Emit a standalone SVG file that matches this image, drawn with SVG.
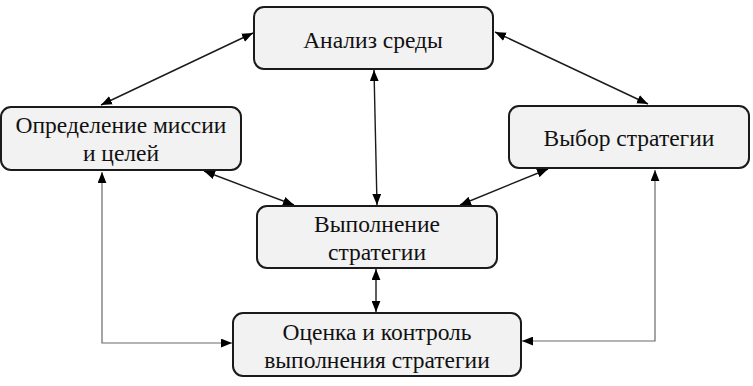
<svg xmlns="http://www.w3.org/2000/svg" width="753" height="386" viewBox="0 0 753 386">
<defs>
<style>
.box{fill:#f2f2f2;stroke:#1a1a1a;stroke-width:2}
.t{font-family:'Liberation Serif','Times New Roman',serif;font-size:23.5px;fill:#111;text-anchor:middle}
.c{fill:none;stroke:#1a1a1a;stroke-width:1.4}
.g{fill:none;stroke:#6a6a6a;stroke-width:1.2}
</style>
<marker id="ah" viewBox="0 0 10 8" refX="10" refY="4" markerWidth="11" markerHeight="9" markerUnits="userSpaceOnUse" orient="auto-start-reverse">
<path d="M0,0 L10,4 L0,8 Z" fill="#000"/>
</marker>
</defs>
<rect width="753" height="386" fill="#fff"/>
<g id="connectors">
<path class="c" d="M253,33 L101,105" marker-start="url(#ah)" marker-end="url(#ah)"/>
<path class="c" d="M495,32 L648,104" marker-start="url(#ah)" marker-end="url(#ah)"/>
<path class="c" d="M374,70 L377,205" marker-start="url(#ah)" marker-end="url(#ah)"/>
<path class="c" d="M204,171 L294,205" marker-start="url(#ah)" marker-end="url(#ah)"/>
<path class="c" d="M548,169 L460,205" marker-start="url(#ah)" marker-end="url(#ah)"/>
<path class="c" d="M376,269 L376,312" marker-start="url(#ah)" marker-end="url(#ah)"/>
<path class="g" d="M102,172 L102,343 L232,343" marker-start="url(#ah)" marker-end="url(#ah)"/>
<path class="g" d="M655,170 L655,341 L522,341" marker-start="url(#ah)" marker-end="url(#ah)"/>
</g>
<g id="node-analiz">
<rect class="box" x="254" y="7" width="239" height="62" rx="10"/>
<text class="t" x="373" y="48">Анализ среды</text>
</g>
<g id="node-opredelenie">
<rect class="box" x="1" y="107" width="240" height="63" rx="10"/>
<text class="t" x="121" y="133">Определение миссии</text>
<text class="t" x="121" y="161">и целей</text>
</g>
<g id="node-vybor">
<rect class="box" x="509" y="106" width="240" height="62" rx="10"/>
<text class="t" x="629" y="146">Выбор стратегии</text>
</g>
<g id="node-vypolnenie">
<rect class="box" x="257" y="206" width="240" height="62" rx="10"/>
<text class="t" x="377" y="232">Выполнение</text>
<text class="t" x="377" y="260">стратегии</text>
</g>
<g id="node-ocenka">
<rect class="box" x="233" y="313" width="288" height="63" rx="10"/>
<text class="t" x="377" y="340">Оценка и контроль</text>
<text class="t" x="377" y="368">выполнения стратегии</text>
</g>
</svg>
